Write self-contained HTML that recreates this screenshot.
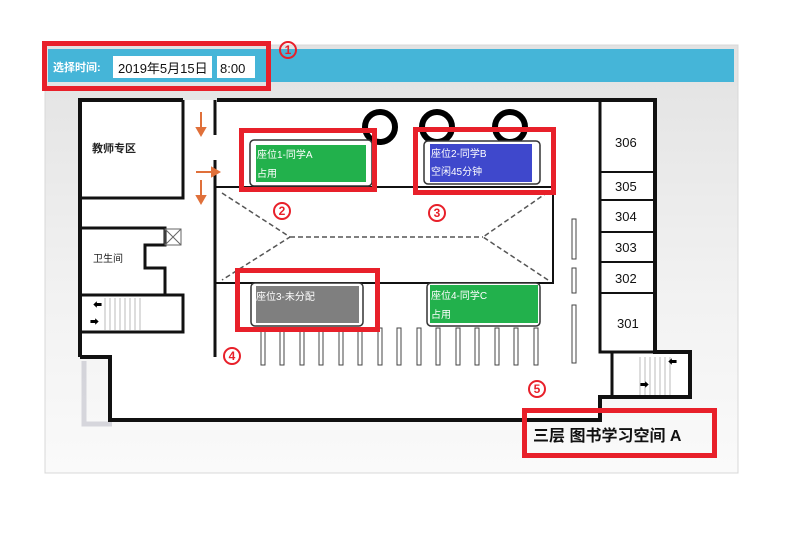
<!DOCTYPE html>
<html><head><meta charset="utf-8"><style>
body{margin:0;width:800px;height:537px;background:#fff;overflow:hidden;font-family:"Liberation Sans","Noto Sans CJK SC",sans-serif}
</style></head><body>
<svg width="800" height="537" viewBox="0 0 800 537" xmlns="http://www.w3.org/2000/svg" font-family="Liberation Sans, Noto Sans CJK SC, sans-serif">
<defs><linearGradient id="bg" x1="0" y1="0" x2="0" y2="1"><stop offset="0" stop-color="#e2e2e2"/><stop offset="0.6" stop-color="#f2f2f2"/><stop offset="1" stop-color="#fafafa"/></linearGradient></defs>
<rect x="45" y="45" width="693" height="428" fill="url(#bg)" stroke="#d8d8d8"/>
<rect x="48" y="49" width="686" height="33" fill="#45b5d8"/>
<text x="53" y="71" font-size="11" font-weight="bold" fill="#fff">选择时间:</text>
<rect x="113" y="56" width="99" height="22" fill="#fff"/>
<text x="118" y="73" font-size="13" fill="#111">2019年5月15日</text>
<rect x="217" y="56" width="38" height="22" fill="#fff"/>
<text x="220" y="73" font-size="13" fill="#111">8:00</text>
<rect x="44.5" y="43.5" width="224" height="45" fill="none" stroke="#e8202a" stroke-width="5"/>
<!-- building -->
<path d="M84 361 V424 H112" fill="none" stroke="#99a" stroke-width="5" opacity="0.35"/>
<polygon points="80,100 655,100 655,352 690,352 690,397 600,397 600,420 110,420 110,357 80,357" fill="#fff"/>
<g fill="none" stroke="#111" stroke-width="4">
<path d="M80 357 V100 H183"/>
<path d="M217 100 H655 V352 H690 V397 H600 V420 H110 V357 H80"/>
</g>
<g fill="none" stroke="#111" stroke-width="3">
<path d="M80 198 H183 V100"/>
<path d="M80 228 H165 V245 H145 V268 H165 V295 H80"/>
<path d="M80 295 H183 V332 H80"/>
<path d="M215 100 V135 M215 160 V357"/>
<path d="M600 100 V352 H655"/>
<path d="M612 352 V397"/>
</g>
<rect x="215" y="187" width="338" height="96" fill="none" stroke="#111" stroke-width="2"/>
<path d="M600 172 H655 M600 200 H655 M600 232 H655 M600 262 H655 M600 293 H655" fill="none" stroke="#111" stroke-width="2"/>
<rect x="165" y="229" width="16" height="16" fill="none" stroke="#666"/>
<path d="M165 229 L181 245 M181 229 L165 245" stroke="#666"/>
<g fill="none" stroke="#555" stroke-width="1.5" stroke-dasharray="5,3">
<path d="M222 193 L290 237 L222 280 M290 237 H483 M548 192 L483 237 L548 280"/>
</g>
<g stroke="#bbb"><path d="M105 298 V330 M110 298 V330 M115 298 V330 M120 298 V330 M125 298 V330 M130 298 V330 M135 298 V330 M140 298 V330"/>
<path d="M640 357 V395 M645 357 V395 M650 357 V395 M655 357 V395 M660 357 V395 M665 357 V395 M670 357 V395"/></g>
<text x="93" y="308" font-size="9">⬅</text><text x="90" y="325" font-size="9">➡</text>
<text x="668" y="365" font-size="9">⬅</text><text x="640" y="388" font-size="9">➡</text>
<g fill="none" stroke="#000" stroke-width="6"><circle cx="380" cy="127" r="15"/><circle cx="437" cy="127" r="15"/><circle cx="510" cy="127" r="15"/></g>
<g stroke="#e0703a" stroke-width="2" fill="#e0703a"><path d="M201 112 V130"/><path d="M197 128 L201 135 L205 128Z"/><path d="M196 172 H214"/><path d="M212 168 L219 172 L212 176Z"/><path d="M201 180 V198"/><path d="M197 196 L201 203 L205 196Z"/></g>
<!-- seats -->
<rect x="250" y="140" width="122" height="46" rx="4" fill="#fff" stroke="#333" stroke-width="1.5"/>
<rect x="256" y="145" width="110" height="37" fill="#22b14c"/>
<text x="257" y="158" font-size="10" fill="#fff">座位1-同学A</text><text x="257" y="177" font-size="10" fill="#fff">占用</text>
<rect x="424" y="141" width="116" height="43" rx="4" fill="#fff" stroke="#333" stroke-width="1.5"/>
<rect x="430" y="144" width="102" height="38" fill="#3f48cc"/>
<text x="431" y="157" font-size="10" fill="#fff">座位2-同学B</text><text x="431" y="175" font-size="10" fill="#fff">空闲45分钟</text>
<rect x="251" y="283" width="112" height="43" rx="4" fill="#fff" stroke="#333" stroke-width="1.5"/>
<rect x="256" y="286" width="103" height="37" fill="#7f7f7f"/>
<text x="256" y="300" font-size="10" fill="#fff">座位3-未分配</text>
<rect x="427" y="283" width="113" height="43" rx="4" fill="#fff" stroke="#333" stroke-width="1.5"/>
<rect x="430" y="285" width="108" height="38" fill="#22b14c"/>
<text x="431" y="299" font-size="10" fill="#fff">座位4-同学C</text><text x="431" y="318" font-size="10" fill="#fff">占用</text>
<g fill="#fff" stroke="#444">
<rect x="261" y="328" width="4" height="37"/><rect x="280" y="328" width="4" height="37"/><rect x="300" y="328" width="4" height="37"/><rect x="319" y="328" width="4" height="37"/><rect x="339" y="328" width="4" height="37"/><rect x="358" y="328" width="4" height="37"/><rect x="378" y="328" width="4" height="37"/><rect x="397" y="328" width="4" height="37"/><rect x="417" y="328" width="4" height="37"/><rect x="436" y="328" width="4" height="37"/><rect x="456" y="328" width="4" height="37"/><rect x="475" y="328" width="4" height="37"/><rect x="495" y="328" width="4" height="37"/><rect x="514" y="328" width="4" height="37"/><rect x="534" y="328" width="4" height="37"/>
<rect x="572" y="219" width="4" height="40"/><rect x="572" y="268" width="4" height="25"/><rect x="572" y="305" width="4" height="58"/>
</g>
<g font-size="13" fill="#111"><text x="615" y="147">306</text><text x="615" y="191">305</text><text x="615" y="221">304</text><text x="615" y="252">303</text><text x="615" y="283">302</text><text x="617" y="328">301</text></g>
<text x="92" y="152" font-size="11" font-weight="bold" fill="#222">教师专区</text>
<text x="93" y="262" font-size="10" fill="#222">卫生间</text>
<g fill="none" stroke="#e8202a" stroke-width="5">
<rect x="241.5" y="130.5" width="133" height="59"/>
<rect x="415.5" y="129.5" width="138" height="63"/>
<rect x="237.5" y="270.5" width="140" height="59"/>
<rect x="524.5" y="410.5" width="190" height="45"/>
</g>
<g fill="none" stroke="#e8202a" stroke-width="2"><circle cx="288" cy="50" r="8"/><circle cx="282" cy="211" r="8"/><circle cx="437" cy="213" r="8"/><circle cx="232" cy="356" r="8"/><circle cx="537" cy="389" r="8"/></g>
<g font-size="12" font-weight="bold" fill="#e8202a" text-anchor="middle"><text x="288" y="54">1</text><text x="282" y="215">2</text><text x="437" y="217">3</text><text x="232" y="360">4</text><text x="537" y="393">5</text></g>
<text x="533" y="441" font-size="16" font-weight="bold" fill="#111">三层  图书学习空间 A</text>
</svg>
</body></html>
